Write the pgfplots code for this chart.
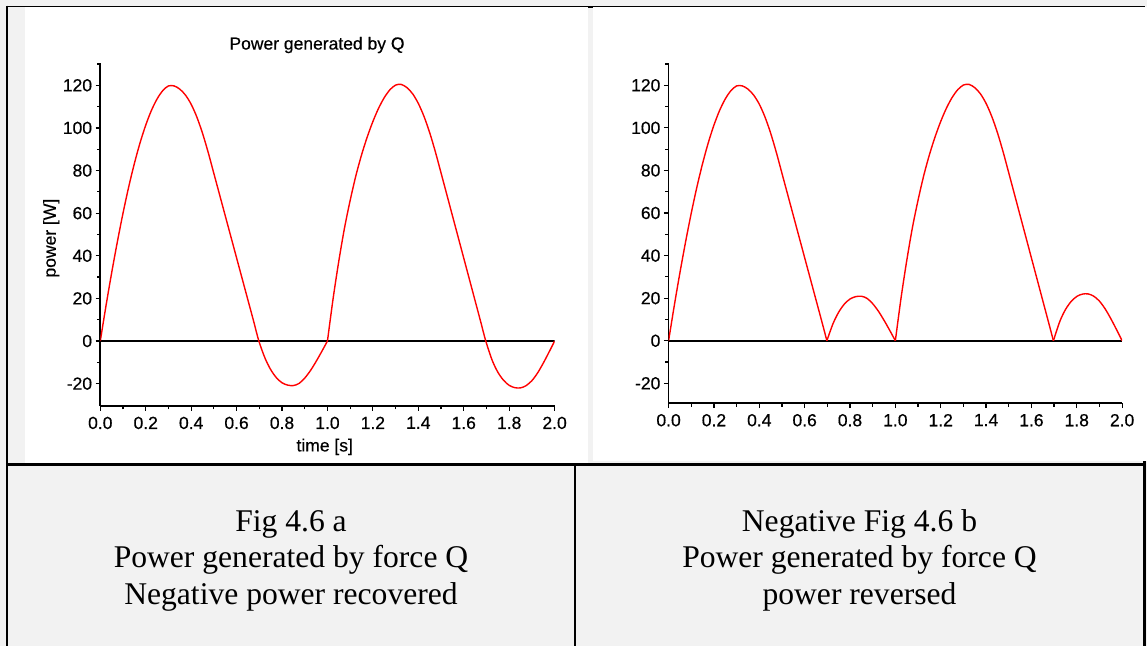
\documentclass[border=0pt]{standalone}
\usepackage{fontspec}
\setmainfont{Liberation Serif}
\newfontfamily\chartfont{Liberation Sans}[UprightFeatures={FakeBold=0.5}]
\usepackage{pgfplots}
\usepackage{pgfplotstable}
\pgfplotsset{compat=1.18}
\definecolor{cellgray}{HTML}{F2F2F2}

% Power delivered by force Q over two cycles, t in s, P in W
\pgfplotstableread{
t P
0.000 0
0.025 16.5
0.050 32
0.075 46.5
0.100 60
0.125 72.3
0.150 83.3
0.175 93
0.200 101.3
0.225 108.2
0.250 113.6
0.275 117.5
0.300 119.7
0.325 119.7
0.350 118.2
0.375 115.4
0.400 111.1
0.425 105.1
0.450 97.5
0.475 88.5
0.500 78.6
0.525 68.7
0.550 58.8
0.575 48.9
0.600 39.0
0.625 29.1
0.650 19.2
0.675 9.3
0.698 0
0.725 -8.0
0.750 -13.4
0.775 -17.2
0.800 -19.6
0.825 -20.7
0.850 -20.9
0.875 -19.9
0.900 -17.4
0.925 -13.9
0.950 -9.6
0.975 -4.9
1.000 0
1.025 20
1.050 37.5
1.075 53
1.100 66
1.125 77.5
1.150 87.3
1.175 95.7
1.200 103
1.225 109.2
1.250 114.2
1.275 117.9
1.300 120.1
1.325 120.4
1.350 118.9
1.375 116.0
1.400 111.5
1.425 105.4
1.450 97.8
1.475 88.8
1.500 78.9
1.525 68.9
1.550 58.9
1.575 48.9
1.600 38.9
1.625 28.9
1.650 18.9
1.675 8.9
1.697 0
1.725 -9.0
1.750 -14.6
1.775 -18.4
1.800 -20.8
1.825 -21.9
1.850 -22.0
1.875 -20.9
1.900 -18.6
1.925 -15.0
1.950 -10.4
1.975 -5.3
2.000 0
}\powerQ

% Same power with the negative part reversed
\pgfplotstableread{
t P
0.000 0
0.025 16.5
0.050 32
0.075 46.5
0.100 60
0.125 72.3
0.150 83.3
0.175 93
0.200 101.3
0.225 108.2
0.250 113.6
0.275 117.5
0.300 119.7
0.325 119.7
0.350 118.2
0.375 115.4
0.400 111.1
0.425 105.1
0.450 97.5
0.475 88.5
0.500 78.6
0.525 68.7
0.550 58.8
0.575 48.9
0.600 39.0
0.625 29.1
0.650 19.2
0.675 9.3
0.698 0
0.725 8.0
0.750 13.4
0.775 17.2
0.800 19.6
0.825 20.7
0.850 20.9
0.875 19.9
0.900 17.4
0.925 13.9
0.950 9.6
0.975 4.9
1.000 0
1.025 20
1.050 37.5
1.075 53
1.100 66
1.125 77.5
1.150 87.3
1.175 95.7
1.200 103
1.225 109.2
1.250 114.2
1.275 117.9
1.300 120.1
1.325 120.4
1.350 118.9
1.375 116.0
1.400 111.5
1.425 105.4
1.450 97.8
1.475 88.8
1.500 78.9
1.525 68.9
1.550 58.9
1.575 48.9
1.600 38.9
1.625 28.9
1.650 18.9
1.675 8.9
1.697 0
1.725 9.0
1.750 14.6
1.775 18.4
1.800 20.8
1.825 21.9
1.850 22.0
1.875 20.9
1.900 18.6
1.925 15.0
1.950 10.4
1.975 5.3
2.000 0
}\powerRev

\pgfplotsset{
  powerplot/.style={
    scale only axis,
    xmin=0, xmax=2,
    axis x line*=bottom, axis y line*=left,
    axis line style={-, black, line width=1.7pt},
    xtick={0,0.2,0.4,0.6,0.8,1.0,1.2,1.4,1.6,1.8,2.0},
    minor xtick={0.1,0.3,0.5,0.7,0.9,1.1,1.3,1.5,1.7,1.9},
    ytick={-20,0,20,40,60,80,100,120},
    minor ytick={-10,10,30,50,70,90,110,130},
    tick align=outside,
    major tick length=4.7pt, minor tick length=3.3pt,
    every tick/.style={black, line width=1.2pt},
    ticklabel style={font=\chartfont\fontsize{17.5}{19}\selectfont, black},
    /pgf/number format/assume math mode=true,
    xticklabel style={yshift=-2.5pt, /pgf/number format/.cd, fixed, fixed zerofill, precision=1},
    yticklabel style={/pgf/number format/.cd, fixed, precision=0},
    label style={font=\chartfont\fontsize{17.5}{19}\selectfont},
    title style={font=\chartfont\fontsize{17.5}{19}\selectfont},
  },
  powercurve/.style={red, line width=1.4pt, no marks, smooth},
  zeroline/.style={black, line width=2pt, no marks},
}

\begin{document}
\begin{tikzpicture}
  % page background and the two white figure panels
  \fill[cellgray] (0pt,0pt) rectangle (1147pt,-646pt);
  \useasboundingbox (0pt,0pt) rectangle (1147pt,-646pt);
  \fill[white] (25pt,-7pt) rectangle (588pt,-463.3pt);
  \fill[white] (592.7pt,-7pt) rectangle (1147pt,-460.7pt);

  % left: power generated by Q
  \begin{axis}[powerplot,
      at={(100.3pt,-406pt)}, anchor=south west,
      width=454.3pt, height=343.3pt,
      ymin=-30.5, ymax=130.6,
      title={Power generated by Q},
      title style={at={(axis description cs:0.477,1.034)}, anchor=center},
      xlabel={time [s]},
      xlabel style={at={(axis description cs:0.494,-0.119)}, anchor=center},
      ylabel={power [W]},
      ylabel style={at={(axis description cs:-0.108,0.489)}, anchor=center, rotate=0},
    ]
    \addplot[zeroline] coordinates {(0,0) (2,0)};
    \addplot[powercurve, restrict x to domain=0:1.0005] table[x=t, y=P] {\powerQ};
    \addplot[powercurve, restrict x to domain=0.9995:2.0005] table[x=t, y=P] {\powerQ};
  \end{axis}

  % right: negative power reversed
  \begin{axis}[powerplot,
      at={(668.6pt,-403.3pt)}, anchor=south west,
      width=453.5pt, height=340.6pt,
      ymin=-29.4, ymax=130.6,
    ]
    \addplot[zeroline] coordinates {(0,0) (2,0)};
    \addplot[powercurve, restrict x to domain=0:0.6985] table[x=t, y=P] {\powerRev};
    \addplot[powercurve, restrict x to domain=0.6975:1.0005] table[x=t, y=P] {\powerRev};
    \addplot[powercurve, restrict x to domain=0.9995:1.6975] table[x=t, y=P] {\powerRev};
    \addplot[powercurve, restrict x to domain=1.6965:2.0005] table[x=t, y=P] {\powerRev};
  \end{axis}

  % table rules
  \draw[black, line width=1.3pt] (6pt,-6.4pt) -- (1145pt,-6.4pt);
  \fill[black] (588.3pt,-5.7pt) rectangle (592.7pt,-7.7pt);
  \draw[black, line width=1.7pt] (6.8pt,-5.7pt) -- (6.8pt,-646pt);
  \draw[black, line width=2.3pt] (6pt,-464.5pt) -- (1145.7pt,-464.5pt);
  \draw[black, line width=2pt] (575pt,-464.5pt) -- (575pt,-646pt);
  \draw[black, line width=2.6pt] (1144.3pt,-461pt) -- (1144.3pt,-646pt);

  % captions
  \begin{scope}[every node/.style={anchor=base, inner sep=0pt, font=\fontsize{31.6}{36.5}\selectfont}]
    \node at (291pt,-531pt) {Fig 4.6 a};
    \node at (291pt,-567.5pt) {Power generated by force Q};
    \node at (291pt,-604pt) {Negative power recovered};
    \node at (859.5pt,-531pt) {Negative Fig 4.6 b};
    \node at (859.5pt,-567.5pt) {Power generated by force Q};
    \node at (859.5pt,-604pt) {power reversed};
  \end{scope}
\end{tikzpicture}
\end{document}
